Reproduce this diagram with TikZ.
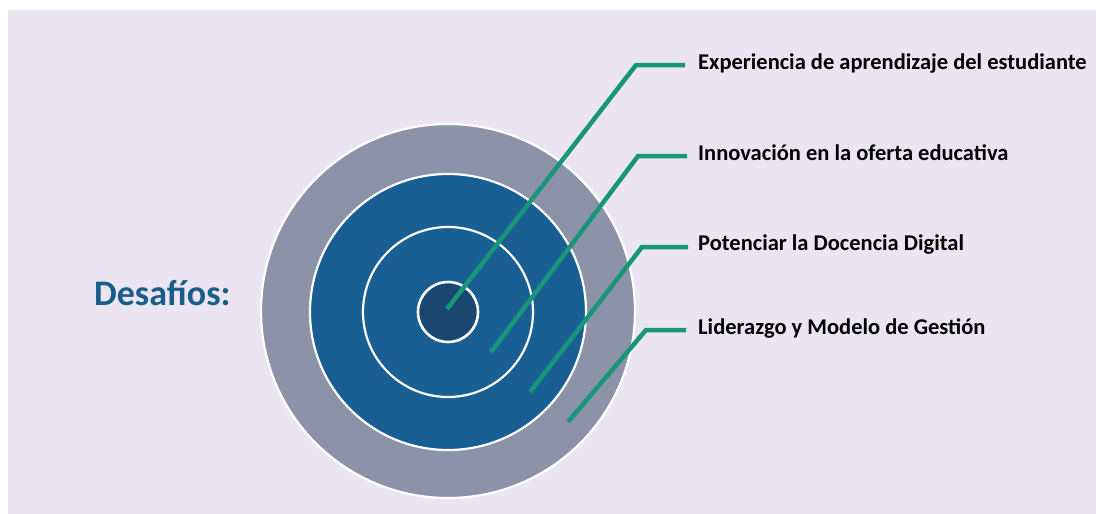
\documentclass[tikz,border=0pt]{standalone}
\usepackage{fontspec}
\setmainfont{Carlito}
\definecolor{bgc}{HTML}{EAE5F1}
\definecolor{ringgray}{HTML}{8C93A8}
\definecolor{ringblue}{HTML}{1A5F93}
\definecolor{coreblue}{HTML}{1A4870}
\definecolor{linegreen}{HTML}{17967A}
\definecolor{titleblue}{HTML}{1B5D8A}
\begin{document}
\begin{tikzpicture}[x=1pt,y=-1pt,
  ring/.style={circle,draw=white,line width=2.2pt,inner sep=0pt,minimum size=#1},
  leader/.style={draw=linegreen,line width=4.5pt,line join=miter},
  lab/.style={anchor=west,inner sep=0pt,font=\bfseries\fontsize{22.5}{26}\selectfont},
]
\useasboundingbox (0,0) rectangle (1096,514);
\fill[white] (0,0) rectangle (1096,514);
\fill[bgc] (8,10) rectangle (1096,514);

\node[ring=374pt,fill=ringgray] (r4) at (448,311) {};
\node[ring=276pt,fill=ringblue] (r3) at (448,312) {};
\node[ring=170pt,fill=ringblue] (r2) at (448,312) {};
\node[ring=60pt,fill=coreblue,line width=2.6pt] (r1) at (448,312) {};

\node[anchor=base west,inner sep=0pt,text=titleblue,font=\bfseries\fontsize{36}{40}\selectfont] (title) at (94,305) {Desafíos:};

\coordinate (s1) at (447,309);
\coordinate (b1) at (636,65);
\coordinate (e1) at (685,65);
\coordinate (s2) at (491,352);
\coordinate (b2) at (638,156);
\coordinate (e2) at (687,156);
\coordinate (s3) at (530,392);
\coordinate (b3) at (642,247);
\coordinate (e3) at (688,247);
\coordinate (s4) at (568,422);
\coordinate (b4) at (646,330);
\coordinate (e4) at (686,330);

\draw[leader] (s1) -- (b1) -- (e1);
\draw[leader] (s2) -- (b2) -- (e2);
\draw[leader] (s3) -- (b3) -- (e3);
\draw[leader] (s4) -- (b4) -- (e4);

\node[lab] (l1) at (698,64) {Experiencia de aprendizaje del estudiante};
\node[lab] (l2) at (698,153) {Innovación en la oferta educativa};
\node[lab] (l3) at (698,245) {Potenciar la Docencia Digital};
\node[lab] (l4) at (698,328) {Liderazgo y Modelo de Gestión};
\end{tikzpicture}
\end{document}
